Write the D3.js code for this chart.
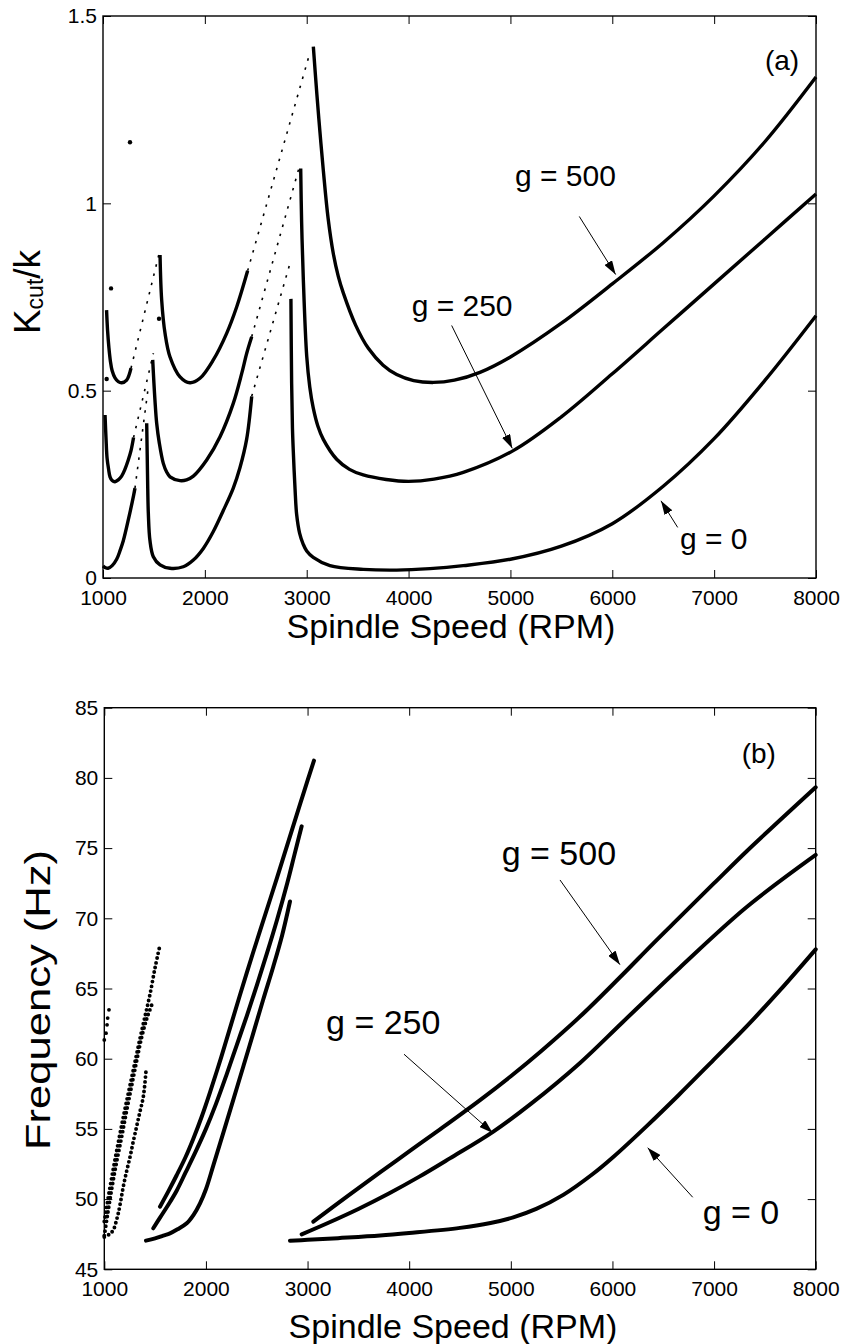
<!DOCTYPE html>
<html>
<head>
<meta charset="utf-8">
<script src="https://cdn.jsdelivr.net/npm/d3@7"></script>
<style>
  body { margin: 0; background: #fff; }
  svg text { font-family: "Liberation Sans", Arial, Helvetica, sans-serif; fill: #000; }
</style>
</head>
<body>
<svg id="chart" width="843" height="1344"></svg>
<script>
// axis ticks
const rpmTicks = [1000, 2000, 3000, 4000, 5000, 6000, 7000, 8000];
const kTicks = [0, 0.5, 1, 1.5];
const kTickLabels = ["0", "0.5", "1", "1.5"];
const freqTicks = [45, 50, 55, 60, 65, 70, 75, 80, 85];

// (a) Kcut/k vs spindle speed, one array per lobe, [rpm, K]
const kLobesG0 = [
  [[1000,0.032],[1020,0.028],[1050,0.026],[1090,0.033],[1134,0.05],[1170,0.075],[1200,0.10],[1250,0.157],[1300,0.22],[1314,0.24]],
  [[1429,0.413],[1434,0.33],[1438,0.26],[1445,0.173],[1461,0.10],[1494,0.057],[1560,0.035],[1658,0.026],[1788,0.03],
   [1887,0.048],[1985,0.079],[2083,0.124],[2181,0.18],[2279,0.24],[2345,0.295],[2410,0.37],[2460,0.485]],
  [[2845,0.745],[2852,0.52],[2860,0.40],[2868,0.34],[2885,0.24],[2901,0.17],[2930,0.12],[2966,0.09],[3000,0.072],
   [3064,0.055],[3228,0.033],[3555,0.023],[3883,0.021],[4210,0.025],[4537,0.033],[5000,0.05],[5500,0.085],
   [6000,0.145],[6500,0.245],[7000,0.372],[7500,0.528],[8000,0.70]]
];
const kLobesG250 = [
  [[1020,0.435],[1030,0.37],[1040,0.32],[1055,0.29],[1069,0.27],[1090,0.26],[1118,0.257],[1150,0.262],[1183,0.272],
   [1215,0.29],[1248,0.315],[1275,0.34],[1300,0.375]],
  [[1488,0.582],[1500,0.52],[1510,0.475],[1527,0.413],[1553,0.36],[1592,0.306],[1625,0.283],[1658,0.27],[1756,0.26],
   [1820,0.262],[1887,0.272],[2018,0.315],[2149,0.377],[2279,0.466],[2362,0.546],[2411,0.60],[2460,0.644]],
  [[2941,1.093],[2950,0.95],[2966,0.803],[3000,0.592],[3030,0.51],[3064,0.454],[3110,0.405],[3163,0.37],[3294,0.317],
   [3420,0.29],[3555,0.275],[3780,0.263],[4000,0.258],[4250,0.264],[4537,0.282],[5028,0.34],[5500,0.43],[6000,0.545],
   [6500,0.665],[7000,0.785],[7500,0.905],[8000,1.025]]
];
const kLobesG500 = [
  [[1035,0.715],[1045,0.66],[1058,0.615],[1072,0.58],[1090,0.553],[1118,0.534],[1150,0.524],[1183,0.521],[1232,0.528],[1275,0.56]],
  [[1560,0.862],[1576,0.742],[1609,0.653],[1658,0.59],[1756,0.537],[1854,0.521],[1952,0.533],[2083,0.582],[2214,0.653],
   [2313,0.724],[2420,0.82]],
  [[3065,1.418],[3100,1.29],[3130,1.19],[3163,1.088],[3210,0.96],[3261,0.866],[3310,0.805],[3359,0.761],[3480,0.675],
   [3605,0.613],[3750,0.568],[3883,0.543],[4050,0.527],[4243,0.522],[4450,0.528],[4701,0.549],[5000,0.59],[5500,0.68],
   [6000,0.785],[6500,0.895],[7000,1.02],[7500,1.165],[8000,1.337]]
];
// sparse (dotted) steep continuations of the rising branches
const kSparse = [
  [[1314,0.24],[1445,0.51]],
  [[1300,0.375],[1495,0.60]],
  [[1275,0.56],[1550,0.865]],
  [[2460,0.485],[2836,0.84]],
  [[2460,0.644],[2930,1.10]],
  [[2420,0.82],[3025,1.396]]
];
const kStray = [[1036,0.531],[1079,0.773],[1265,1.163],[1550,0.692]];

// (b) chatter frequency vs spindle speed, [rpm, Hz]
const fCurvesG0 = [
  [[1410,47.04],[1500,47.2],[1580,47.4],[1646,47.56],[1720,47.85],[1811,48.28],[1880,48.9],[1942,49.7],[2000,50.7],
   [2073,52.4],[2170,54.7],[2269,57.07],[2370,59.5],[2466,61.82],[2563,64.2],[2663,66.57],[2750,68.8],[2827,71.2]],
  [[2827,47.04],[3000,47.1],[3300,47.22],[3713,47.4],[4000,47.58],[4500,47.95],[4800,48.3],[5024,48.7],[5250,49.3],
   [5516,50.3],[5800,51.75],[6008,53.0],[6337,55.2],[6650,57.4],[6993,59.9],[7320,62.3],[7649,64.88],[8000,67.79]]
];
const fCurvesG250 = [
  [[1482,47.92],[1550,48.7],[1630,49.6],[1712,50.6],[1800,51.9],[1900,53.4],[2000,55.0],[2100,56.8],[2200,58.8],
   [2300,60.9],[2400,63.0],[2500,65.2],[2600,67.5],[2700,69.9],[2800,72.5],[2870,74.5],[2942,76.55]],
  [[2942,47.49],[3200,48.3],[3500,49.3],[3800,50.4],[4100,51.6],[4400,52.9],[4828,54.81],[5200,56.8],[5681,59.7],
   [6100,62.6],[6665,66.5],[7321,70.8],[8000,74.51]]
];
const fCurvesG500 = [
  [[1548,49.46],[1630,50.55],[1712,51.7],[1800,53.0],[1876,54.3],[1960,55.9],[2040,57.6],[2150,60.1],[2250,62.5],
   [2401,66.1],[2532,69.1],[2700,72.9],[2860,76.6],[2960,78.9],[3063,81.23]],
  [[3057,48.39],[3400,50.25],[3713,51.9],[4000,53.4],[4300,54.95],[4697,57.05],[5000,58.75],[5300,60.55],
   [5681,63.0],[6074,65.8],[6400,68.2],[6665,70.1],[7000,72.5],[7321,74.78],[7650,77.0],[8000,79.33]]
];
const fSparse = [
  [[1000,47.3],[1050,47.5],[1089,47.8],[1120,48.5],[1138,49.0],[1160,49.8],[1187,50.9],[1220,52.0],[1253,53.0],
   [1285,54.1],[1319,55.2],[1350,56.2],[1384,57.3],[1410,59.1]],
  [[1000,47.4],[1030,48.8],[1070,50.6],[1120,52.6],[1170,54.4],[1220,56.3],[1270,58.1],[1320,59.9],[1370,61.6],
   [1420,62.9],[1476,64.0]],
  [[1000,48.4],[1050,50.6],[1100,52.6],[1150,54.5],[1200,56.3],[1250,58.0],[1300,59.7],[1350,61.4],[1400,63.0],
   [1450,64.6],[1500,66.5],[1548,68.1]]
];
const fStray = [[1000,61.34],[1017,61.82],[1027,62.41],[1033,62.89],[1046,63.48]];

// annotations, in data units
const labelsA = [
  { text: "g = 500", rpm: 5045, v: 1.045 },
  { text: "g = 250", rpm: 4030, v: 0.70 },
  { text: "g = 0", rpm: 6664, v: 0.078 }
];
const arrowsA = [
  { from: [5676, 0.965], to: [6033, 0.81] },
  { from: [4423, 0.674], to: [5018, 0.346] },
  { from: [6642, 0.135], to: [6478, 0.206] }
];
const labelsB = [
  { text: "g = 500", rpm: 4910, v: 73.79 },
  { text: "g = 250", rpm: 3182, v: 61.74 },
  { text: "g = 0", rpm: 6888, v: 48.21 }
];
const arrowsB = [
  { from: [5484, 72.73], to: [6074, 66.70] },
  { from: [3949, 60.32], to: [4822, 54.71] },
  { from: [6790, 50.13], to: [6347, 53.66] }
];

const svg = d3.select("#chart");
svg.append("rect").attr("width", 843).attr("height", 1344).attr("fill", "#fff");

svg.append("defs").append("marker")
  .attr("id", "head")
  .attr("viewBox", "0 0 14 9")
  .attr("refX", 14).attr("refY", 4.5)
  .attr("markerWidth", 14).attr("markerHeight", 9)
  .attr("markerUnits", "userSpaceOnUse")
  .attr("orient", "auto")
  .append("path").attr("d", "M0,0L14,4.5L0,9Z").attr("fill", "#000");

function frame(x, y, yTicks, yFmt) {
  const [x0, x1] = x.range();
  const [y0, y1] = y.range();
  const axes = [
    [d3.axisBottom(x).tickValues(rpmTicks).tickFormat(d3.format("d")).tickPadding(12), `translate(0,${y0})`],
    [d3.axisTop(x).tickValues(rpmTicks).tickFormat(""), `translate(0,${y1})`],
    [d3.axisLeft(y).tickValues(yTicks).tickFormat(yFmt).tickPadding(6), `translate(${x0},0)`],
    [d3.axisRight(y).tickValues(yTicks).tickFormat(""), `translate(${x1},0)`]
  ];
  axes.forEach(([ax, tr]) => {
    const g = svg.append("g").attr("transform", tr)
      .call(ax.tickSizeInner(-8).tickSizeOuter(0));
    g.attr("font-size", 21).attr("font-family", '"Liberation Sans", Arial, sans-serif');
    g.select(".domain").remove();
    g.selectAll("line").attr("stroke", "#000").attr("stroke-width", 1);
  });
  svg.append("rect")
    .attr("x", x0).attr("y", y1)
    .attr("width", x1 - x0).attr("height", y0 - y1)
    .attr("fill", "none").attr("stroke", "#000").attr("stroke-width", 1.4);
}

function annotate(x, y, labels, arrows, size) {
  labels.forEach(d => {
    svg.append("text").attr("x", x(d.rpm)).attr("y", y(d.v))
      .attr("font-size", size).text(d.text);
  });
  arrows.forEach(d => {
    svg.append("line")
      .attr("x1", x(d.from[0])).attr("y1", y(d.from[1]))
      .attr("x2", x(d.to[0])).attr("y2", y(d.to[1]))
      .attr("stroke", "#000").attr("stroke-width", 1)
      .attr("marker-end", "url(#head)");
  });
}

// ---------- panel (a)
const xa = d3.scaleLinear().domain([1000, 8000]).range([103, 816]);
const ya = d3.scaleLinear().domain([0, 1.5]).range([578, 16]);
const lineA = d3.line().x(d => xa(d[0])).y(d => ya(d[1])).curve(d3.curveCatmullRom.alpha(0.5));

const gA = svg.append("g");
gA.selectAll(".sparse").data(kSparse).join("path")
  .attr("d", lineA).attr("fill", "none").attr("stroke", "#000")
  .attr("stroke-width", 1.6).attr("stroke-dasharray", "2.5,7");
gA.selectAll(".lobe").data([...kLobesG0, ...kLobesG250, ...kLobesG500]).join("path")
  .attr("d", lineA).attr("fill", "none").attr("stroke", "#000")
  .attr("stroke-width", 3.4).attr("stroke-linejoin", "round");
gA.selectAll(".stray").data(kStray).join("circle")
  .attr("cx", d => xa(d[0])).attr("cy", d => ya(d[1])).attr("r", 2.2);

frame(xa, ya, kTicks, (d, i) => kTickLabels[i]);
annotate(xa, ya, labelsA, arrowsA, 30);
svg.append("text").attr("x", xa(7499)).attr("y", ya(1.357)).attr("font-size", 28).text("(a)");

svg.append("text").attr("x", 451).attr("y", 638).attr("text-anchor", "middle")
  .attr("font-size", 34).text("Spindle Speed (RPM)");
const yl = svg.append("text").attr("transform", "translate(40,292) rotate(-90)")
  .attr("text-anchor", "middle").attr("font-size", 37);
yl.append("tspan").text("K");
yl.append("tspan").attr("font-size", 23).attr("dy", 3).text("cut");
yl.append("tspan").attr("dy", -3).text("/k");

// ---------- panel (b)
const xb = d3.scaleLinear().domain([1000, 8000]).range([104.3, 815.7]);
const yb = d3.scaleLinear().domain([45, 85]).range([1269.3, 707.7]);
const lineB = d3.line().x(d => xb(d[0])).y(d => yb(d[1])).curve(d3.curveCatmullRom.alpha(0.5));

const gB = svg.append("g");
gB.selectAll(".sparse").data(fSparse).join("path")
  .attr("d", lineB).attr("fill", "none").attr("stroke", "#000")
  .attr("stroke-width", 3.9).attr("stroke-linecap", "round").attr("stroke-dasharray", "0,4.8");
gB.selectAll(".curve").data([...fCurvesG0, ...fCurvesG250, ...fCurvesG500]).join("path")
  .attr("d", lineB).attr("fill", "none").attr("stroke", "#000")
  .attr("stroke-width", 4).attr("stroke-linecap", "round");
gB.selectAll(".stray").data(fStray).join("circle")
  .attr("cx", d => xb(d[0])).attr("cy", d => yb(d[1])).attr("r", 1.9);

frame(xb, yb, freqTicks, d => d);
annotate(xb, yb, labelsB, arrowsB, 34);
svg.append("text").attr("x", xb(7272)).attr("y", yb(81.05)).attr("font-size", 28).text("(b)");

svg.append("text").attr("x", 453).attr("y", 1338).attr("text-anchor", "middle")
  .attr("font-size", 34).text("Spindle Speed (RPM)");
svg.append("text").attr("transform", "translate(50,1000) rotate(-90)")
  .attr("text-anchor", "middle").attr("font-size", 35)
  .attr("textLength", 300).attr("lengthAdjust", "spacingAndGlyphs")
  .text("Frequency (Hz)");
</script>
</body>
</html>
